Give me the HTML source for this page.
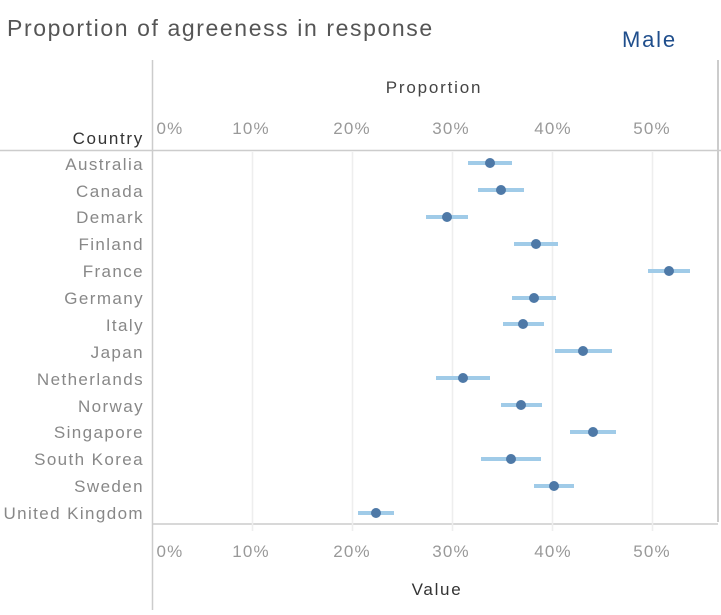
<!DOCTYPE html>
<html><head><style>
body{margin:0;background:#fff;}
svg text{font-family:"Liberation Sans",sans-serif;}
</style></head><body>
<svg width="721" height="610" xmlns="http://www.w3.org/2000/svg">
<text x="7" y="36" font-size="23" fill="#555" letter-spacing="1.6">Proportion of agreeness in response</text>
<text x="622" y="47" font-size="22" fill="#1f4e8c" letter-spacing="1.8">Male</text>
<line x1="152.5" y1="60" x2="152.5" y2="610" stroke="#ccc" stroke-width="1.5"/>
<line x1="718" y1="60" x2="718" y2="522" stroke="#ccc" stroke-width="2"/>
<line x1="0" y1="150.5" x2="721" y2="150.5" stroke="#ccc" stroke-width="1.5"/>
<line x1="152" y1="524" x2="718" y2="524" stroke="#ccc" stroke-width="1.5"/>
<g stroke="#eee" stroke-width="1.5">
<line x1="252.5" y1="152" x2="252.5" y2="531"/>
<line x1="352.5" y1="152" x2="352.5" y2="531"/>
<line x1="452.5" y1="152" x2="452.5" y2="531"/>
<line x1="552.5" y1="152" x2="552.5" y2="531"/>
<line x1="652.5" y1="152" x2="652.5" y2="531"/>
</g>
<text x="434" y="93" font-size="17" fill="#444" text-anchor="middle" letter-spacing="1.8">Proportion</text>
<text x="144" y="144" font-size="17" fill="#333" text-anchor="end" letter-spacing="1.7">Country</text>
<text x="437" y="595" font-size="17" fill="#333" text-anchor="middle" letter-spacing="1.7">Value</text>
<g font-size="17" fill="#999" text-anchor="middle" letter-spacing="1.2">
<text x="170" y="134">0%</text><text x="251" y="134">10%</text><text x="352" y="134">20%</text><text x="451" y="134">30%</text><text x="553" y="134">40%</text><text x="652" y="134">50%</text>
<text x="170" y="557">0%</text><text x="251" y="557">10%</text><text x="352" y="557">20%</text><text x="451" y="557">30%</text><text x="553" y="557">40%</text><text x="652" y="557">50%</text>
</g>
<g font-size="17" fill="#888" text-anchor="end" letter-spacing="1.4">
<text x="144" y="170">Australia</text>
<text x="144" y="197">Canada</text>
<text x="144" y="223">Demark</text>
<text x="144" y="250">Finland</text>
<text x="144" y="277">France</text>
<text x="144" y="304">Germany</text>
<text x="144" y="331">Italy</text>
<text x="144" y="358">Japan</text>
<text x="144" y="385">Netherlands</text>
<text x="144" y="412">Norway</text>
<text x="144" y="438">Singapore</text>
<text x="144" y="465">South Korea</text>
<text x="144" y="492">Sweden</text>
<text x="144" y="519">United Kingdom</text>
</g>
<g stroke="#a0cbe8" stroke-width="4">
<line x1="468" y1="163" x2="512" y2="163"/>
<line x1="478" y1="190" x2="524" y2="190"/>
<line x1="426" y1="217" x2="468" y2="217"/>
<line x1="514" y1="244" x2="558" y2="244"/>
<line x1="648" y1="271" x2="690" y2="271"/>
<line x1="512" y1="298" x2="556" y2="298"/>
<line x1="503" y1="324" x2="544" y2="324"/>
<line x1="555" y1="351" x2="612" y2="351"/>
<line x1="436" y1="378" x2="490" y2="378"/>
<line x1="501" y1="405" x2="542" y2="405"/>
<line x1="570" y1="432" x2="616" y2="432"/>
<line x1="481" y1="459" x2="541" y2="459"/>
<line x1="534" y1="486" x2="574" y2="486"/>
<line x1="358" y1="513" x2="394" y2="513"/>
</g>
<g fill="#4e79a7">
<circle cx="490" cy="163" r="5"/>
<circle cx="501" cy="190" r="5"/>
<circle cx="447" cy="217" r="5"/>
<circle cx="536" cy="244" r="5"/>
<circle cx="669" cy="271" r="5"/>
<circle cx="534" cy="298" r="5"/>
<circle cx="523" cy="324" r="5"/>
<circle cx="583" cy="351" r="5"/>
<circle cx="463" cy="378" r="5"/>
<circle cx="521" cy="405" r="5"/>
<circle cx="593" cy="432" r="5"/>
<circle cx="511" cy="459" r="5"/>
<circle cx="554" cy="486" r="5"/>
<circle cx="376" cy="513" r="5"/>
</g>
</svg>
</body></html>
